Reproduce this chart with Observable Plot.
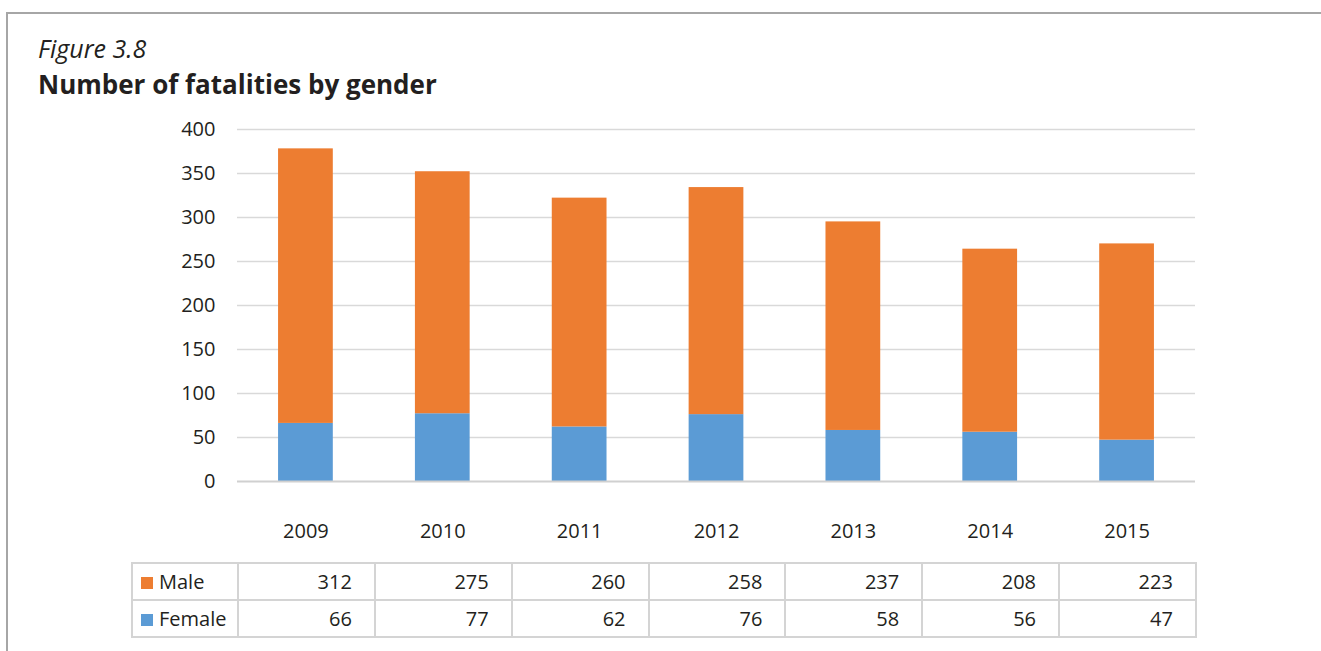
<!DOCTYPE html>
<html>
<head>
<meta charset="utf-8">
<script src="https://cdn.jsdelivr.net/npm/d3@7"></script>
<script src="https://cdn.jsdelivr.net/npm/@observablehq/plot@0.6"></script>
<style>
  html, body { margin: 0; padding: 0; background: #fff; }
  #wrap { position: relative; width: 1321px; height: 651px; overflow: hidden; font-family: "Open Sans", sans-serif; color: #231f20; }
  #frame { position: absolute; left: 6px; top: 12px; width: 1320px; height: 650px; border-top: 2px solid #a6a6a6; border-left: 2px solid #a6a6a6; box-sizing: border-box; }
  #fig { position: absolute; left: 38px; top: 36px; font-size: 25px; line-height: 25px; font-style: italic; white-space: nowrap; }
  #title { position: absolute; left: 38px; top: 70.5px; font-size: 26px; line-height: 26px; font-weight: 700; white-space: nowrap; }
  #chart { position: absolute; left: 0; top: 0; }
  #tbl { position: absolute; left: 131px; top: 562px; border-collapse: collapse; table-layout: fixed; width: 1065px; font-size: 20px; }
  #tbl td { border: 2px solid #d4d4d4; height: 35px; padding: 0; white-space: nowrap; }
  #tbl td.v { text-align: right; padding-right: 22px; }
  #tbl td.k { padding-left: 8px; }
  .sw { display: inline-block; width: 12px; height: 12px; margin-right: 6px; vertical-align: 0px; }
</style>
</head>
<body>
<div id="wrap">
  <div id="frame"></div>
  <div id="fig"></div>
  <div id="title"></div>
  <div id="chart"></div>
  <table id="tbl"></table>
</div>
<script>
const figureLabel = "Figure 3.8";
const titleText = "Number of fatalities by gender";
const years = ["2009", "2010", "2011", "2012", "2013", "2014", "2015"];
const male = [312, 275, 260, 258, 237, 208, 223];
const female = [66, 77, 62, 76, 58, 56, 47];
const series = ["Male", "Female"];
const colors = ["#ED7D31", "#5B9BD5"];
const yTicks = [0, 50, 100, 150, 200, 250, 300, 350, 400];

document.getElementById("fig").textContent = figureLabel;
document.getElementById("title").textContent = titleText;

const rows = years.flatMap((y, i) => [
  {year: y, gender: "Female", value: female[i]},
  {year: y, gender: "Male", value: male[i]}
]);

const chart = Plot.plot({
  width: 1321,
  height: 551,
  marginLeft: 237,
  marginRight: 126,
  marginTop: 129,
  marginBottom: 70,
  style: {fontSize: "20px", fontFamily: "Open Sans, sans-serif", color: "#231f20", background: "transparent", overflow: "visible"},
  x: {domain: years, paddingInner: 0.6, paddingOuter: 0.3, round: false, tickSize: 0, tickPadding: 42, label: null},
  y: {domain: [0, 400], ticks: yTicks, tickSize: 0, tickPadding: 22, label: null},
  color: {domain: series, range: colors},
  marks: [
    Plot.ruleY(yTicks.filter(d => d > 0), {stroke: "#d9d9d9", strokeWidth: 1.5}),
    Plot.barY(rows, {x: "year", y: "value", fill: "gender"}),
    Plot.ruleY([0], {stroke: "#d0d0d0", strokeWidth: 2})
  ]
});
document.getElementById("chart").appendChild(chart);

// data table below the chart
const tbl = document.getElementById("tbl");
const cg = document.createElement("colgroup");
const c0 = document.createElement("col"); c0.style.width = "106px"; cg.appendChild(c0);
years.forEach(() => { const c = document.createElement("col"); c.style.width = (958 / years.length) + "px"; cg.appendChild(c); });
tbl.appendChild(cg);
const tableData = {Male: male, Female: female};
series.forEach((s, si) => {
  const tr = document.createElement("tr");
  const k = document.createElement("td");
  k.className = "k";
  const sw = document.createElement("span");
  sw.className = "sw";
  sw.style.background = colors[si];
  k.appendChild(sw);
  k.appendChild(document.createTextNode(s));
  tr.appendChild(k);
  tableData[s].forEach(v => {
    const td = document.createElement("td");
    td.className = "v";
    td.textContent = v;
    tr.appendChild(td);
  });
  tbl.appendChild(tr);
});
</script>
</body>
</html>
